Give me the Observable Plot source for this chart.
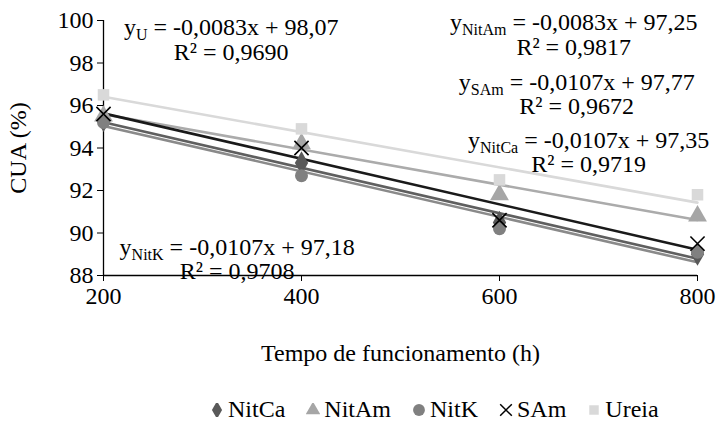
<!DOCTYPE html>
<html>
<head>
<meta charset="utf-8">
<script src="https://cdn.jsdelivr.net/npm/d3@7"></script>
<script src="https://cdn.jsdelivr.net/npm/@observablehq/plot@0.6"></script>
<style>
  body { margin: 0; background: #fff; }
  #wrap { position: relative; width: 716px; height: 425px; font-family: "Liberation Serif", "Times New Roman", Tinos, "DejaVu Serif", "Noto Serif", serif; }
  #legend { position: absolute; left: 210px; top: 396px; display: flex; align-items: center; font-size: 24px; color: #000; white-space: nowrap; }
  #legend .item { display: flex; align-items: center; margin-right: 21px; }
  #legend svg { margin-right: 4px; }
</style>
</head>
<body>
<div id="wrap">
  <div id="chart"></div>
  <div id="legend"></div>
</div>
<script>
// ---- data ----
const hours = [200, 400, 600, 800];
const seriesNames = ["NitCa", "NitAm", "NitK", "SAm", "Ureia"];
const nitCa = [95.3, 93.3, 90.5, 89.0];
const nitAm = [95.5, 94.2, 91.8, 90.8];
const nitK  = [95.2, 92.7, 90.2, 89.1];
const sAm   = [95.6, 94.0, 90.6, 89.5];
const ureia = [96.5, 94.9, 92.5, 91.8];
const slopes     = [-0.0107, -0.0083, -0.0107, -0.0107, -0.0083];
const intercepts = [97.35, 97.25, 97.18, 97.77, 98.07];
const r2Values   = ["0,9719", "0,9817", "0,9708", "0,9672", "0,9690"];
const eqSubs     = ["NitCa", "NitAm", "NitK", "SAm", "U"];
// equation label anchors (data units)
const eqX  = [690, 675, 335, 678, 329];
const eqY  = [94.35, 99.9, 89.32, 97.08, 99.67];
const r2Y  = [93.22, 98.73, 88.19, 95.95, 98.49];
const xTicks = [200, 400, 600, 800];
const yTicks = [88, 90, 92, 94, 96, 98, 100];

// ---- styles ----
const FONT = "'Liberation Serif', 'Times New Roman', Tinos, 'DejaVu Serif', 'Noto Serif', serif";
const colors  = ["#595959", "#a6a6a6", "#808080", "#000000", "#d9d9d9"];
const lineCol = ["#5f5f5f", "#ababab", "#8a8a8a", "#1a1a1a", "#d9d9d9"];
const symbols = ["diamond", "triangle", "circle", "times", "square"];
const sizes   = [7, 7, 6.5, 6.5, 6.5];

const values = [nitCa, nitAm, nitK, sAm, ureia];
const points = [];
seriesNames.forEach((s, i) => hours.forEach((h, j) => points.push({s, i, x: h, y: values[i][j]})));
const trend = [];
seriesNames.forEach((s, i) => [200, 800].forEach(h => trend.push({s, i, x: h, y: slopes[i] * h + intercepts[i]})));
const fmt = v => String(v).replace(".", ",");
const eqRows = seriesNames.map((s, i) => ({
  i, x: eqX[i], y: eqY[i], y2: r2Y[i],
  eq: `y|${eqSubs[i]}| = ${fmt(slopes[i])}x + ${fmt(intercepts[i].toFixed(2))}`,
  r2: `R² = ${r2Values[i]}`
}));

const marks = [
  Plot.axisX({ticks: xTicks, tickSize: 6, tickPadding: 5, label: "Tempo de funcionamento (h)", labelAnchor: "center", labelOffset: 85, labelArrow: "none", fontSize: 24, fontFamily: FONT}),
  Plot.axisY({ticks: yTicks, tickSize: 6, tickPadding: 4, label: "CUA (%)", labelAnchor: "center", labelOffset: 95, labelArrow: "none", fontSize: 24, fontFamily: FONT, tickFormat: d => d}),
  Plot.ruleX([200], {stroke: "#000", strokeWidth: 1.3}),
  Plot.ruleY([88], {stroke: "#000", strokeWidth: 1.3}),
];
seriesNames.forEach((s, i) => {
  marks.push(Plot.line(trend.filter(d => d.i === i), {x: "x", y: "y", stroke: lineCol[i], strokeWidth: 2.6}));
});
seriesNames.forEach((s, i) => {
  const pts = points.filter(d => d.i === i);
  if (symbols[i] === "times") {
    marks.push(Plot.dot(pts, {x: "x", y: "y", symbol: "times", r: sizes[i], stroke: colors[i], strokeWidth: 1.6}));
  } else {
    marks.push(Plot.dot(pts, {x: "x", y: "y", symbol: symbols[i], r: sizes[i], fill: colors[i], stroke: "none"}));
  }
});
marks.push(Plot.text(eqRows, {x: "x", y: "y", text: "eq", textAnchor: "middle", fontSize: 24, fontFamily: FONT, fill: "#000", className: "eqtext"}));
marks.push(Plot.text(eqRows, {x: "x", y: "y2", text: "r2", textAnchor: "middle", fontSize: 24, fontFamily: FONT, fill: "#000"}));

const chart = Plot.plot({
  width: 716,
  height: 392,
  marginLeft: 103,
  marginRight: 19,
  marginTop: 20,
  marginBottom: 117,
  x: {domain: [200, 800]},
  y: {domain: [88, 100]},
  style: {fontFamily: FONT, fontSize: "24px", color: "#000", background: "#fff", overflow: "visible"},
  marks
});
document.getElementById("chart").appendChild(chart);

// subscripts in equation labels
chart.querySelectorAll(".eqtext text").forEach(t => {
  const parts = t.textContent.split("|");
  if (parts.length !== 3) return;
  t.textContent = "";
  const ns = "http://www.w3.org/2000/svg";
  const a = document.createElementNS(ns, "tspan"); a.textContent = parts[0];
  const b = document.createElementNS(ns, "tspan"); b.textContent = parts[1];
  b.setAttribute("dy", "5"); b.setAttribute("font-size", "16");
  const c = document.createElementNS(ns, "tspan"); c.textContent = parts[2];
  c.setAttribute("dy", "-5");
  t.append(a, b, c);
});

// legend
const legend = document.getElementById("legend");
seriesNames.forEach((s, i) => {
  const item = document.createElement("div");
  item.className = "item";
  const sym = d3.symbol(
    {diamond: d3.symbolDiamond, triangle: d3.symbolTriangle, circle: d3.symbolCircle, times: d3.symbolTimes, square: d3.symbolSquare}[symbols[i]],
    symbols[i] === "circle" ? 110 : 90
  )();
  const fill = symbols[i] === "times" ? "none" : colors[i];
  const stroke = symbols[i] === "times" ? colors[i] : "none";
  item.innerHTML = `<svg width="14" height="14" viewBox="-7 -7 14 14"><path d="${sym}" fill="${fill}" stroke="${stroke}" stroke-width="1.5"/></svg><span>${s}</span>`;
  legend.appendChild(item);
});
</script>
</body>
</html>
